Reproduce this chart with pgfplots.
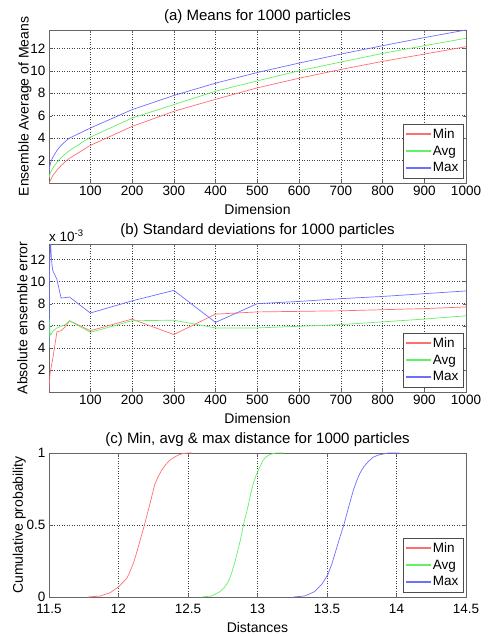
\documentclass[border=0pt]{standalone}
\usepackage{pgfplots}
\pgfplotsset{compat=1.18}
\usepackage{fontspec}
\setmainfont{Liberation Sans}
\definecolor{lred}{RGB}{255,110,110}
\definecolor{lgreen}{RGB}{100,240,100}
\definecolor{lblue}{RGB}{110,110,255}

\pgfplotsset{
  mlab/.style={
    scale only axis, width=417pt,
    /pgf/number format/assume math mode=true,
    /pgf/number format/1000 sep={},
    tick label style={font=\fontsize{13.5}{14}\selectfont},
    label style={font=\fontsize{14}{15}\selectfont},
    title style={font=\fontsize{15}{16}\selectfont, yshift=-3pt},
    xlabel style={yshift=-1pt},
    axis line style={black!60},
    tick align=inside, major tick length=3pt, tick style={black!60},
    grid=major, major grid style={black!75, dash pattern=on 1pt off 1.5pt, line width=0.5pt},
    legend cell align=left,
    legend style={at={(1,0)}, anchor=south east, xshift=-3pt, yshift=5pt,
      draw=black!70, text=black, font=\fontsize{13.5}{14}\selectfont, row sep=2pt, inner sep=2.5pt},
    legend image code/.code={\fill[#1] (0pt,-0.5pt) rectangle (24pt,0.5pt);},
  }
}

\begin{document}
\begin{tikzpicture}
\path[use as bounding box] (0,0) rectangle (490pt,636pt);

% (a)
\begin{axis}[mlab, at={(49pt,453pt)}, anchor=south west, height=153pt,
  title={(a) Means for 1000 particles},
  xlabel={Dimension}, ylabel={Ensemble Average of Means},
  ylabel style={yshift=-8pt},
  xmin=1, xmax=1000, ymin=0, ymax=13.64,
  xtick={100,200,...,1000}, ytick={2,4,...,12}]
\addplot[lred, line width=0.7pt] coordinates {
 (1,0.0) (2,0.05) (3,0.12) (4,0.2) (5,0.28) (6,0.36) (7,0.44) (8,0.51) (9,0.58) (10,0.65)
 (20,1.15) (30,1.55) (40,1.9) (50,2.2) (100,3.35) (200,5.04) (300,6.39) (400,7.46)
 (500,8.48) (600,9.34) (700,10.12) (800,10.84) (900,11.49) (1000,12.15)};
\addplot[lgreen, line width=0.7pt] coordinates {
 (1,0.45) (2,0.62) (3,0.76) (4,0.87) (5,0.96) (6,1.04) (7,1.11) (8,1.18) (9,1.24) (10,1.31)
 (20,1.84) (30,2.25) (40,2.59) (50,2.89) (100,4.09) (200,5.79) (300,6.99) (400,8.18)
 (500,9.1) (600,10.0) (700,10.78) (800,11.55) (900,12.24) (1000,12.9)};
\addplot[lblue, line width=0.7pt] coordinates {
 (1,1.0) (2,1.3) (3,1.5) (4,1.67) (5,1.8) (6,1.92) (7,2.02) (8,2.12) (9,2.2) (10,2.28)
 (20,2.9) (30,3.35) (40,3.7) (50,4.0) (100,4.9) (200,6.54) (300,7.8) (400,8.9)
 (500,9.85) (600,10.69) (700,11.49) (800,12.24) (900,12.96) (1000,13.64)};
\legend{Min,Avg,Max}
\end{axis}

% (b)
\begin{axis}[mlab, name=b, at={(49pt,244pt)}, anchor=south west, height=148pt,
  title={(b) Standard deviations for 1000 particles},
  xlabel={Dimension}, ylabel={Absolute ensemble error},
  ylabel style={yshift=-4pt},
  xmin=1, xmax=1000, ymin=0, ymax=13.4,
  xtick={100,200,...,1000}, ytick={2,4,...,12}]
\addplot[lred, line width=0.7pt] coordinates {
 (1,0.1) (2,0.9) (3,1.4) (4,1.8) (5,2.0) (6,2.2) (7,2.4) (8,2.6) (9,2.8) (10,3.0)
 (20,5.45) (30,5.55) (40,5.9) (50,6.45) (100,5.55) (200,6.6) (300,5.2) (400,7.05)
 (500,7.25) (600,7.3) (700,7.35) (800,7.45) (900,7.55) (1000,7.7)};
\addplot[lgreen, line width=0.7pt] coordinates {
 (1,4.0) (2,6.6) (3,5.6) (4,5.2) (5,5.15) (6,5.2) (7,5.3) (8,5.35) (9,5.45) (10,5.5)
 (20,5.8) (30,5.95) (40,6.1) (50,6.45) (100,5.4) (200,6.45) (300,6.5) (400,5.8)
 (500,5.8) (600,5.95) (700,6.1) (800,6.35) (900,6.6) (1000,6.9)};
\addplot[lblue, line width=0.7pt] coordinates {
 (1,4.3) (2,10.3) (3,12.0) (4,13.0) (5,13.4) (6,12.6) (7,12.0) (8,11.6) (9,11.3) (10,11.0)
 (20,10.2) (30,8.5) (40,8.55) (50,8.6) (100,7.15) (200,8.25) (300,9.2) (400,6.3)
 (500,8.0) (600,8.2) (700,8.45) (800,8.65) (900,8.9) (1000,9.15)};
\legend{Min,Avg,Max}
\end{axis}
\node[anchor=south west, font=\fontsize{13.5}{14}\selectfont, inner sep=0pt, yshift=2pt]
  at (b.north west) {x 10\textsuperscript{-3}};

% (c)
\begin{axis}[mlab, at={(49pt,39pt)}, anchor=south west, height=144pt,
  title={(c) Min, avg \& max distance for 1000 particles},
  xlabel={Distances}, ylabel={Cumulative probability},
  ylabel style={yshift=-6pt},
  xticklabel style={yshift=-4pt},
  xmin=11.5, xmax=14.5, ymin=0, ymax=1,
  xtick={11.5,12,...,14.5}, ytick={0,0.5,1}]
\addplot[lred, line width=0.7pt] coordinates {
 (11.78,0) (11.87,0.007) (11.94,0.03) (12.0,0.07) (12.06,0.13) (12.08,0.17) (12.107,0.234)
 (12.125,0.29) (12.143,0.35) (12.16,0.41) (12.18,0.477) (12.2,0.55) (12.227,0.65) (12.245,0.72)
 (12.26,0.78) (12.285,0.835) (12.31,0.88) (12.34,0.92) (12.37,0.95) (12.4,0.97) (12.44,0.99)
 (12.47,0.997) (12.5,1.0) (12.53,1.0)};
\addplot[lgreen, line width=0.7pt] coordinates {
 (12.598,0) (12.67,0.007) (12.73,0.037) (12.76,0.065) (12.79,0.106) (12.815,0.17) (12.838,0.245)
 (12.855,0.31) (12.874,0.384) (12.888,0.445) (12.90,0.507) (12.918,0.575) (12.934,0.639)
 (12.952,0.72) (12.97,0.79) (12.988,0.84) (13.006,0.88) (13.04,0.95) (13.065,0.975)
 (13.09,0.99) (13.13,1) (13.19,1)};
\addplot[lblue, line width=0.7pt] coordinates {
 (13.258,0) (13.34,0.007) (13.41,0.037) (13.46,0.085) (13.505,0.153) (13.535,0.23) (13.558,0.303)
 (13.594,0.419) (13.623,0.507) (13.653,0.616) (13.69,0.743) (13.715,0.81) (13.737,0.86)
 (13.765,0.905) (13.797,0.94) (13.83,0.97) (13.87,0.986) (13.94,1) (14.02,1)};
\legend{Min,Avg,Max}
\end{axis}
\end{tikzpicture}
\end{document}
